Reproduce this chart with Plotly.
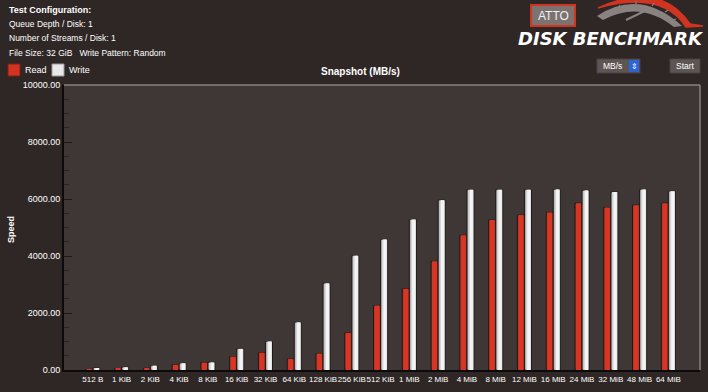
import plotly.graph_objects as go

sizes = ["512 B", "1 KiB", "2 KiB", "4 KiB", "8 KiB", "16 KiB", "32 KiB", "64 KiB",
         "128 KiB", "256 KiB", "512 KiB", "1 MiB", "2 MiB", "4 MiB", "8 MiB",
         "12 MiB", "16 MiB", "24 MiB", "32 MiB", "48 MiB", "64 MiB"]
read_mbs = [15, 40, 60, 180, 260, 470, 610, 390, 580, 1300, 2265, 2850, 3815, 4730,
            5260, 5435, 5530, 5855, 5705, 5785, 5855]
write_mbs = [70, 95, 150, 235, 265, 740, 1000, 1670, 3040, 4010, 4580, 5280, 5960,
             6325, 6325, 6325, 6335, 6300, 6245, 6335, 6270]
y_ticks = [0, 2000, 4000, 6000, 8000, 10000]

W, H = 708, 392
L, R, T, B = 64, 700, 85, 370

def px(x):
    return (x - L) / (R - L)

def py(y):
    return (B - y) / (B - T)

BW = 0.245
fig = go.Figure()
# read bars (red with darker edges)
fig.add_bar(x=sizes, y=read_mbs, width=BW, offset=-BW, marker=dict(color="#b02a1c", line=dict(color="#1e1a19", width=1)), hoverinfo="skip")
fig.add_bar(x=sizes, y=read_mbs, width=BW * 0.72, offset=-BW * 0.86, marker=dict(color="#d83624", line=dict(width=0)), hoverinfo="skip")
# write bars (grey to white gradient)
fig.add_bar(x=sizes, y=write_mbs, width=BW, offset=0, marker=dict(color="#9c9c9c", line=dict(color="#1e1a19", width=1)), hoverinfo="skip")
fig.add_bar(x=sizes, y=write_mbs, width=BW * 0.75, offset=BW * 0.18, marker=dict(color="#d4d4d4", line=dict(width=0)), hoverinfo="skip")
fig.add_bar(x=sizes, y=write_mbs, width=BW * 0.45, offset=BW * 0.4, marker=dict(color="#f4f4f4", line=dict(width=0)), hoverinfo="skip")

fig.update_layout(
    width=W, height=H, showlegend=False, barmode="overlay",
    paper_bgcolor="#2f2725", plot_bgcolor="#3f3735",
    margin=dict(l=L, r=W - R, t=T, b=H - B, autoexpand=False),
    font=dict(family="Liberation Sans, Arial, sans-serif", color="#ffffff", size=9),
)
fig.update_xaxes(
    type="category", range=[-1.0, 21.1], showgrid=False, ticks="",
    tickmode="array", tickvals=sizes, ticktext=sizes, tickangle=0, automargin=False,
    showline=True, linecolor="#0c0a0a", linewidth=2,
    tickfont=dict(size=8, color="#ffffff"), fixedrange=True,
)
fig.update_yaxes(
    range=[0, 10000], tickvals=y_ticks, tickformat=".2f", showgrid=False,
    ticks="inside", ticklen=8, tickcolor="#1e1a19", tickwidth=1, automargin=False,
    minor=dict(dtick=500, ticks="inside", ticklen=5, tickcolor="#2a2422"),
    showline=True, linecolor="#0c0a0a", linewidth=2, zeroline=False,
    tickfont=dict(size=9, color="#ffffff"), fixedrange=True,
)

shapes = []
# top and right plot border
shapes.append(dict(type="line", xref="paper", yref="paper", x0=0, x1=1, y0=1, y1=1, line=dict(color="#8a8280", width=1.5)))
shapes.append(dict(type="line", xref="paper", yref="paper", x0=1, x1=1, y0=0, y1=1, line=dict(color="#8a8280", width=1.5)))
# legend swatches
shapes.append(dict(type="rect", xref="paper", yref="paper", x0=px(8), x1=px(20), y0=py(76), y1=py(64), fillcolor="#d23422", line=dict(color="#8a1a10", width=1)))
shapes.append(dict(type="rect", xref="paper", yref="paper", x0=px(52), x1=px(64), y0=py(76), y1=py(64), fillcolor="#e8e8e8", line=dict(color="#9a9a9a", width=1)))
# ATTO box
shapes.append(dict(type="rect", xref="paper", yref="paper", x0=px(531), x1=px(575), y0=py(26), y1=py(5), fillcolor="#7c7371", line=dict(color="#d23422", width=2)))
# speedometer: grey gauge arc and red swoosh
def P(x, y):
    return f"{px(x):.5f},{py(y):.5f}"
shapes.append(dict(type="path", xref="paper", yref="paper",
                   path=f"M {P(597,16)} Q {P(640,-12)} {P(682,26)} L {P(674,27)} Q {P(640,0)} {P(603,20)} Z",
                   fillcolor="#8a8280", line=dict(width=0)))
shapes.append(dict(type="path", xref="paper", yref="paper",
                   path=f"M {P(598,8)} Q {P(660,-20)} {P(690,24)} L {P(703,26)} L {P(686,27)} Q {P(662,-10)} {P(598,8)} Z",
                   fillcolor="#d23422", line=dict(color="#d23422", width=1.5)))
shapes.append(dict(type="line", xref="paper", yref="paper", x0=px(626), y0=py(20), x1=px(651), y1=py(8), line=dict(color="#8a8280", width=2)))
for (xa, ya, xb, yb) in [(605, 17, 609, 15), (618, 8, 620, 5), (636, 4, 636, 1), (652, 6, 654, 3), (665, 12, 668, 10), (672, 20, 676, 19)]:
    shapes.append(dict(type="line", xref="paper", yref="paper", x0=px(xa), y0=py(ya), x1=px(xb), y1=py(yb), line=dict(color="#8a8280", width=1.2)))
# dropdown and Start button
shapes.append(dict(type="rect", xref="paper", yref="paper", x0=px(597), x1=px(640), y0=py(73), y1=py(59), fillcolor="#5d5553", line=dict(color="#4a4240", width=1)))
shapes.append(dict(type="rect", xref="paper", yref="paper", x0=px(629), x1=px(639), y0=py(72), y1=py(60), fillcolor="#2d63d8", line=dict(width=0)))
shapes.append(dict(type="rect", xref="paper", yref="paper", x0=px(670), x1=px(700), y0=py(73), y1=py(59), fillcolor="#5d5553", line=dict(color="#4a4240", width=1)))

ann = []
def text(x, y, s, size=9, bold=False, anchor="left", color="#ffffff", italic=False, family=None, angle=0):
    if bold:
        s = f"<b>{s}</b>"
    if italic:
        s = f"<i>{s}</i>"
    d = dict(x=px(x), y=py(y), xref="paper", yref="paper", text=s, showarrow=False,
             xanchor=anchor, yanchor="middle", font=dict(size=size, color=color), textangle=angle)
    if family:
        d["font"]["family"] = family
    ann.append(d)

text(7, 10, "Test Configuration:", 9, bold=True)
text(7, 24, "Queue Depth / Disk: 1", 8.5)
text(7, 38, "Number of Streams / Disk: 1", 8.5)
text(7, 53, "File Size: 32 GiB   Write Pattern: Random", 8.5)
text(23, 70, "Read", 9)
text(67, 70, "Write", 9)
text(360, 71, "Snapshot (MB/s)", 10, bold=True, anchor="center")
text(553, 16, "ATTO", 12, anchor="center", color="#f0f0f0")
text(611, 39, "DISK BENCHMARK", 18, bold=True, italic=True, anchor="center", family="DejaVu Sans")
text(612, 66, "MB/s", 8.5, anchor="center")
text(634, 66, "⇕", 8, anchor="center")
text(685, 66, "Start", 8.5, anchor="center")
text(11, 230, "Speed", 9, bold=True, anchor="center", angle=-90)

fig.update_layout(shapes=shapes, annotations=ann)
fig.write_html("out.html", config={"displayModeBar": False},
               post_script="document.body.style.margin='0';document.body.style.overflow='hidden';")
